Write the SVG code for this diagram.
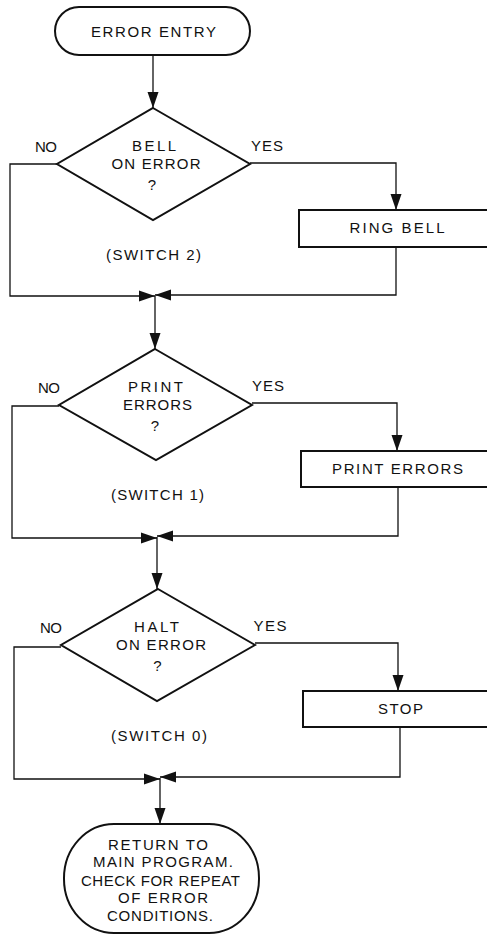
<svg xmlns="http://www.w3.org/2000/svg" width="487" height="934" viewBox="0 0 487 934">
<style>
.n{fill:none;stroke:#111;stroke-width:2}
.c{fill:none;stroke:#111;stroke-width:1.3}
text{font-family:"Liberation Sans",Arial,sans-serif;font-size:15px;fill:#111;text-anchor:middle}
</style>
<defs>
<marker id="arr" markerUnits="userSpaceOnUse" viewBox="0 -6 16 12" refX="16" refY="0" markerWidth="16" markerHeight="12" orient="auto">
<path d="M0,-5.5 L16,0 L0,5.5 Z" fill="#111"/>
</marker>
</defs>
<rect width="487" height="934" fill="#fff"/>
<g id="connectors">
<path class="c" d="M153,55 V108" marker-end="url(#arr)"/>
<path class="c" d="M57,164 H10 V296 H155" marker-end="url(#arr)"/>
<path class="c" d="M250,163 H396 V210" marker-end="url(#arr)"/>
<path class="c" d="M396,247 V295 H155" marker-end="url(#arr)"/>
<path class="c" d="M155,296 V349" marker-end="url(#arr)"/>
<path class="c" d="M59,406 H12 V538 H157" marker-end="url(#arr)"/>
<path class="c" d="M252,403 H397 V451" marker-end="url(#arr)"/>
<path class="c" d="M398,487 V536 H157" marker-end="url(#arr)"/>
<path class="c" d="M157,537 V589" marker-end="url(#arr)"/>
<path class="c" d="M61,647 H14 V779 H160" marker-end="url(#arr)"/>
<path class="c" d="M255,643 H398 V691" marker-end="url(#arr)"/>
<path class="c" d="M400,727 V777 H160" marker-end="url(#arr)"/>
<path class="c" d="M160,778 V824" marker-end="url(#arr)"/>
<text x="46" y="152" textLength="22">NO</text>
<text x="267" y="151" textLength="32">YES</text>
<text x="49" y="393" textLength="22">NO</text>
<text x="268" y="391" textLength="32">YES</text>
<text x="51" y="633" textLength="22">NO</text>
<text x="270" y="631" textLength="33">YES</text>
</g>
<g id="error-entry">
<rect class="n" x="55" y="7" width="195" height="48" rx="24"/>
<text x="153.5" y="37" textLength="125">ERROR ENTRY</text>
</g>
<g id="bell-on-error">
<polygon class="n" points="153,108 250,164 153,220 57,164"/>
<text x="154" y="151" textLength="44">BELL</text>
<text x="156" y="169" textLength="89">ON ERROR</text>
<text x="152" y="190">?</text>
<text x="153.5" y="260" textLength="95">(SWITCH 2)</text>
</g>
<g id="ring-bell">
<rect class="n" x="299" y="210" width="195" height="37"/>
<text x="397" y="233" textLength="95">RING BELL</text>
</g>
<g id="print-errors-q">
<polygon class="n" points="155,349 252,405 156,460 59,405"/>
<text x="155.5" y="392" textLength="55">PRINT</text>
<text x="157.5" y="410" textLength="69">ERRORS</text>
<text x="155" y="431">?</text>
<text x="157.5" y="500" textLength="93">(SWITCH 1)</text>
</g>
<g id="print-errors">
<rect class="n" x="301" y="451" width="195" height="36"/>
<text x="397.5" y="474" textLength="131">PRINT ERRORS</text>
</g>
<g id="halt-on-error">
<polygon class="n" points="158,589 255,645 157,701 61,645"/>
<text x="156.5" y="632" textLength="45">HALT</text>
<text x="161" y="650" textLength="90">ON ERROR</text>
<text x="157.5" y="671">?</text>
<text x="159" y="741" textLength="96">(SWITCH 0)</text>
</g>
<g id="stop">
<rect class="n" x="303" y="691" width="195" height="36"/>
<text x="400.5" y="714" textLength="45">STOP</text>
</g>
<g id="return">
<rect class="n" x="64" y="824" width="195" height="109" rx="50" ry="54"/>
<text x="158" y="850" textLength="100">RETURN TO</text>
<text x="163" y="867" textLength="140">MAIN PROGRAM.</text>
<text x="160.5" y="886" textLength="159">CHECK FOR REPEAT</text>
<text x="163" y="903" textLength="90">OF ERROR</text>
<text x="160" y="921" textLength="106">CONDITIONS.</text>
</g>
</svg>
